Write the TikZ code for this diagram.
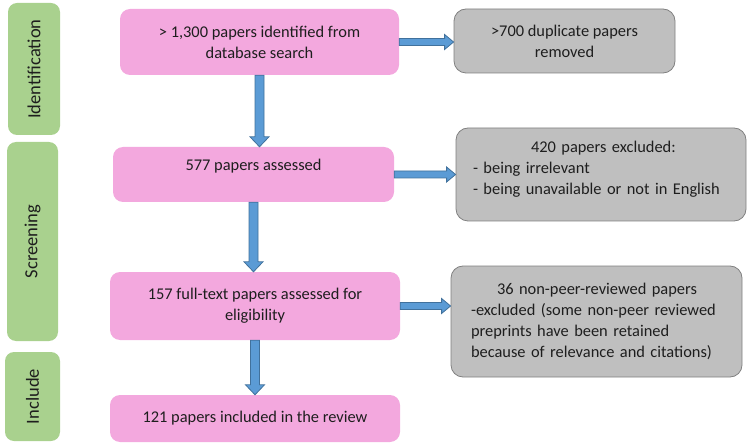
\documentclass[tikz,border=0pt]{standalone}
\usepackage{fontspec}
\setmainfont{Carlito}
\usetikzlibrary{calc}
\definecolor{pinkfill}{RGB}{243,168,222}
\definecolor{greenfill}{RGB}{169,209,142}
\definecolor{grayfill}{RGB}{191,191,191}
\definecolor{grayline}{RGB}{128,128,128}
\definecolor{arrfill}{RGB}{91,155,213}
\definecolor{arrline}{RGB}{65,113,156}
\definecolor{txt}{RGB}{30,30,30}
\newcommand{\harr}[2]{\draw[arr] let \p1=(#1.east), \p2=(#1.east -| #2.west) in
  (\x1,\y1+3.5pt) -- (\x2-9pt,\y1+3.5pt) -- (\x2-9pt,\y1+7.5pt) -- (\x2,\y1)
  -- (\x2-9pt,\y1-7.5pt) -- (\x2-9pt,\y1-3.5pt) -- (\x1,\y1-3.5pt) -- cycle;}
\newcommand{\varr}[2]{\draw[arr] let \p1=(#1.south), \p2=(#1.south |- #2.north) in
  (\x1-4.5pt,\y1) -- (\x1-4.5pt,\y2+10pt) -- (\x1-9.5pt,\y2+10pt) -- (\x1,\y2)
  -- (\x1+9.5pt,\y2+10pt) -- (\x1+4.5pt,\y2+10pt) -- (\x1+4.5pt,\y1) -- cycle;}
\newcommand{\dep}[1]{\rule[-#1]{0pt}{0pt}}
\begin{document}
\begin{tikzpicture}[x=1pt,y=-1pt,
  every node/.style={font=\fontsize{16.4}{21}\selectfont, text=txt, inner sep=0pt},
  pinkbox/.style={fill=pinkfill, rounded corners=10pt, align=center},
  graybox/.style={fill=grayfill, draw=grayline, line width=0.8pt, rounded corners=12pt},
  greenbox/.style={fill=greenfill, rounded corners=9pt, rotate=90, font=\fontsize{18.5}{21}\selectfont},
  arr/.style={fill=arrfill, draw=arrline, line width=0.8pt, line join=miter}]
\useasboundingbox (0,0) rectangle (749,446);
% stage labels
\node[greenbox, minimum width=132, minimum height=52] (g1) at (34,69) {Identification};
\node[greenbox, minimum width=199, minimum height=51] (g2) at (32.5,241.5) {Screening};
\node[greenbox, minimum width=89, minimum height=55] (g3) at (32.5,396.5) {Include};
% main boxes
\node[pinkbox, minimum width=279, minimum height=66] (p1) at (259.5,42) {> 1,300 papers identified from\\database search};
\node[pinkbox, minimum width=281, minimum height=55] (p2) at (253.5,174.5) {577 papers assessed\dep{19pt}};
\node[pinkbox, minimum width=290, minimum height=68] (p3) at (255,306) {157 full-text papers assessed for\\eligibility};
\node[pinkbox, minimum width=290, minimum height=47] (p4) at (255,418.5) {121 papers included in the review};
% side boxes
\node[graybox, align=center, minimum width=221, minimum height=64] (s1) at (564.5,41) {>700 duplicate papers\\removed};
\node[graybox, align=left, text width=256pt, minimum width=290, minimum height=93] (s2) at (601,174.5) {\hspace*{58pt}420 papers excluded:\\- being irrelevant\\- being unavailable or not in English\dep{13pt}};
\node[graybox, align=left, text width=251pt, minimum width=291, minimum height=111] (s3) at (596.5,321.5) {\hspace*{26pt}36 non-peer-reviewed papers\\-excluded (some non-peer reviewed\\preprints have been retained\\because of relevance and citations)};
% arrows
\harr{p1}{s1}
\harr{p2}{s2}
\harr{p3}{s3}
\varr{p1}{p2}
\varr{p2}{p3}
\varr{p3}{p4}
\end{tikzpicture}
\end{document}
